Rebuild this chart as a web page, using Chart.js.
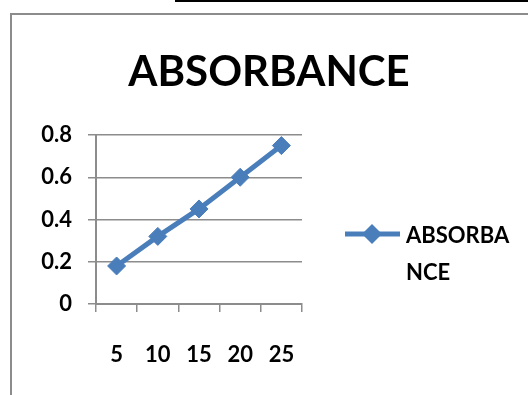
<!DOCTYPE html>
<html>
<head>
<meta charset="utf-8">
<script src="https://cdn.jsdelivr.net/npm/chart.js@4/dist/chart.umd.min.js"></script>
<style>
    html, body { margin: 0; padding: 0; background: #fff; }
    #wrap { position: relative; width: 528px; height: 395px; overflow: hidden; }
    #topline { position: absolute; left: 175px; top: 0; width: 353px; height: 2px; background: #000; }
    #frame { position: absolute; left: 10px; top: 13px; width: 600px; height: 500px;
             border-left: 2px solid #8c8c8c; border-top: 2px solid #8c8c8c; }
    canvas { position: absolute; left: 0; top: 0; }
</style>
</head>
<body>
<div id="wrap">
    <div id="topline"></div>
    <div id="frame"></div>
    <canvas id="absorbance" width="528" height="395"></canvas>
</div>
<script>
const chartTitle = 'ABSORBANCE';
const concentrations = ['5', '10', '15', '20', '25'];
const absorbance = [0.18, 0.32, 0.45, 0.60, 0.75];
const yTicks = [0, 0.2, 0.4, 0.6, 0.8];

const lineColor = '#4a7ebb';
const gridColor = '#8c8c8c';
const font = 'Lato';

document.addEventListener('DOMContentLoaded', function() {
    const ctx = document.getElementById('absorbance');

    // title and wrapped legend, drawn by hand like the Excel original
    const decorations = {
        id: 'decorations',
        afterDraw(chart) {
            const c = chart.ctx;
            c.save();
            c.fillStyle = '#000';
            c.textAlign = 'center';
            c.textBaseline = 'middle';
            c.font = 'bold 42px ' + font;
            c.fillText(chartTitle, 269, 72);

            // legend
            const ds = chart.data.datasets[0];
            const ly = 234;
            c.strokeStyle = ds.borderColor;
            c.lineWidth = 5;
            c.beginPath();
            c.moveTo(345, ly);
            c.lineTo(400, ly);
            c.stroke();
            c.fillStyle = ds.borderColor;
            c.beginPath();
            c.moveTo(372, ly - 10);
            c.lineTo(382, ly);
            c.lineTo(372, ly + 10);
            c.lineTo(362, ly);
            c.closePath();
            c.fill();

            c.fillStyle = '#000';
            c.textAlign = 'left';
            c.font = 'bold 22px ' + font;
            const lines = [ds.label.slice(0, 7), ds.label.slice(7)];
            lines.forEach((t, i) => c.fillText(t, 406, ly + 2 + i * 37));
            c.restore();
        }
    };

    new Chart(ctx, {
        type: 'line',
        data: {
            labels: concentrations,
            datasets: [{
                label: chartTitle,
                data: absorbance,
                borderColor: lineColor,
                backgroundColor: lineColor,
                borderWidth: 5,
                tension: 0,
                pointStyle: 'rectRot',
                pointRadius: 9,
                pointBorderWidth: 1,
                pointHoverRadius: 9,
                fill: false
            }]
        },
        options: {
            responsive: false,
            animation: false,
            layout: {
                padding: { left: 0, right: 226, top: 135, bottom: 0 }
            },
            plugins: {
                legend: { display: false },
                title: { display: false },
                tooltip: { enabled: false }
            },
            scales: {
                x: {
                    offset: true,
                    afterFit: function(scale) { scale.height = 91; },
                    grid: {
                        offset: true,
                        drawOnChartArea: false,
                        color: gridColor,
                        lineWidth: 1.5,
                        tickLength: 8
                    },
                    border: { color: gridColor, width: 2 },
                    ticks: {
                        color: '#000',
                        padding: 30,
                        font: { family: font, size: 22, weight: 'bold' }
                    }
                },
                y: {
                    min: 0,
                    max: 0.8,
                    afterFit: function(scale) { scale.width = 96; },
                    afterBuildTicks: function(scale) {
                        scale.ticks = yTicks.map(v => ({ value: v }));
                    },
                    grid: {
                        color: gridColor,
                        lineWidth: 1.5,
                        tickLength: 8
                    },
                    border: { color: gridColor, width: 2 },
                    ticks: {
                        color: '#000',
                        padding: 16,
                        font: { family: font, size: 22, weight: 'bold' },
                        callback: function(value) { return String(value); }
                    }
                }
            }
        },
        plugins: [decorations]
    });
});
</script>
</body>
</html>
